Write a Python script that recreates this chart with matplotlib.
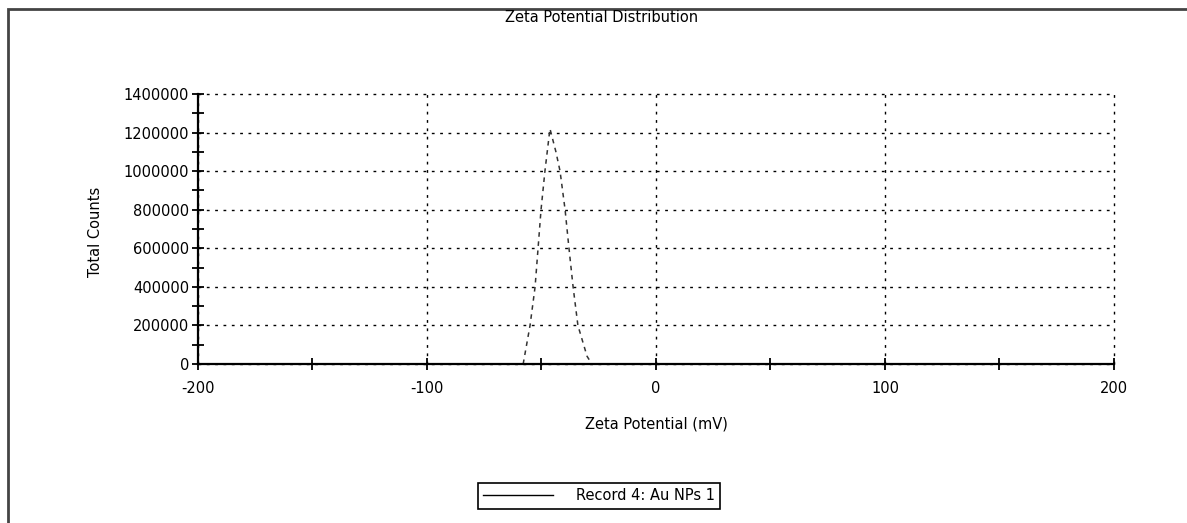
import matplotlib
matplotlib.use('Agg')
import matplotlib.pyplot as plt
from matplotlib.lines import Line2D
from matplotlib.patches import Rectangle
from matplotlib.ticker import MultipleLocator, FuncFormatter

plt.rcParams['font.family'] = 'DejaVu Sans'
plt.rcParams['font.size'] = 10.5
plt.rcParams['axes.unicode_minus'] = False

# zeta potential (mV) and total counts
zeta = [-58, -55.0, -52.8, -51.5, -50.2, -48.5, -46.3, -43.7, -41.9,
        -39.7, -38.0, -36.2, -34.1, -30.1, -28]
counts = [0, 200000, 400000, 600000, 800000, 1000000, 1220000, 1100000,
          1000000, 800000, 600000, 400000, 200000, 40000, 0]
series_name = 'Record 4: Au NPs 1'

fig = plt.figure(figsize=(11.87, 5.23), dpi=100)
ax = fig.add_axes([0.1668, 0.304, 0.7717, 0.5163])

ax.plot(zeta, counts, color='#333333', lw=1.1, ls=(0, (3, 3)))

ax.set_xlim(-200, 200)
ax.set_ylim(0, 1400000)
ax.xaxis.set_major_locator(MultipleLocator(100))
ax.xaxis.set_minor_locator(MultipleLocator(50))
ax.yaxis.set_major_locator(MultipleLocator(200000))
ax.yaxis.set_minor_locator(MultipleLocator(100000))
ax.yaxis.set_major_formatter(FuncFormatter(lambda v, p: '%d' % v))
ax.tick_params(which='both', direction='inout', length=9, width=1.3,
               colors='black', labelsize=10.5)
ax.tick_params(axis='x', pad=8)
ax.tick_params(axis='y', pad=2)
ax.grid(which='major', color='black', ls=(0, (2, 4)), lw=1)
ax.set_axisbelow(True)
for gl in ax.get_xgridlines() + ax.get_ygridlines():
    gl.set_clip_on(False)

for s in ['top', 'right']:
    ax.spines[s].set_visible(False)
for s in ['left', 'bottom']:
    ax.spines[s].set_linewidth(1.6)

fig.text(602 / 1187, 1 - 18 / 523, 'Zeta Potential Distribution',
         ha='center', va='center')
fig.text(656 / 1187, 1 - 424 / 523, 'Zeta Potential (mV)',
         ha='center', va='center')
fig.text(95 / 1187, 1 - 232 / 523, 'Total Counts', rotation=90,
         ha='center', va='center')

handle = Line2D([], [], color='black', lw=1)
leg = fig.legend([handle], [series_name], loc='center',
                 bbox_to_anchor=(599 / 1187, 1 - 496 / 523),
                 handlelength=4.8, handletextpad=1.6, fancybox=False,
                 framealpha=1, edgecolor='black', borderpad=0.35)
leg.get_frame().set_linewidth(1.2)

# outer frame of the exported chart (right and bottom edges cut off)
fig.patches.append(Rectangle((8 / 1187, -0.1), 1.2, 1.1 - 9 / 523,
                             transform=fig.transFigure, fill=False,
                             edgecolor='#444444', lw=2))

fig.savefig('out.png', dpi=100)
